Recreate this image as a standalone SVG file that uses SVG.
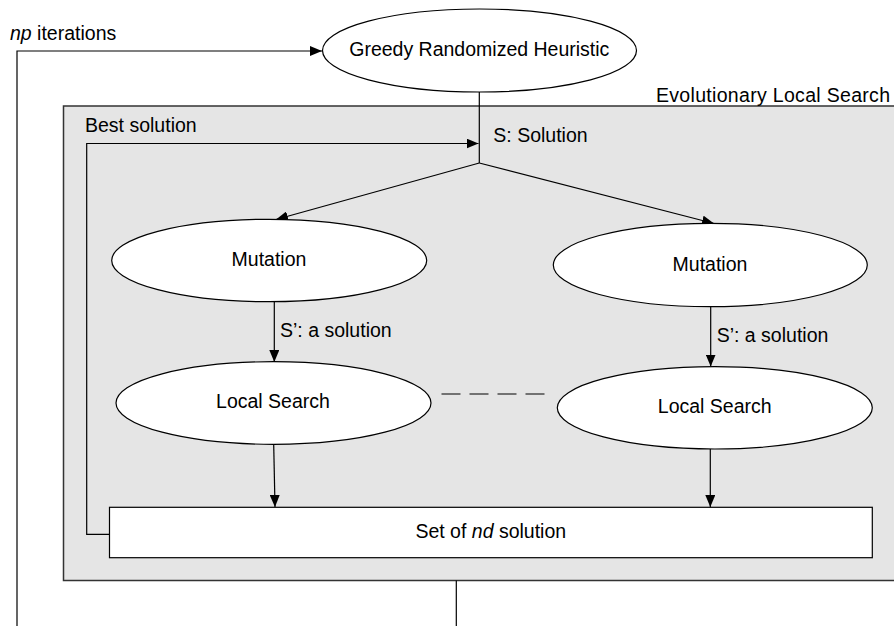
<svg xmlns="http://www.w3.org/2000/svg" width="894" height="626" viewBox="0 0 894 626">
<style>
text{font-family:"Liberation Sans",Arial,sans-serif;font-size:19.5px;fill:#000}
.node{fill:#fff;stroke:#000;stroke-width:1.2}
.edge{fill:none;stroke:#000;stroke-width:1.2}
.mid{text-anchor:middle}
</style>
<defs>
<marker id="arr" markerUnits="userSpaceOnUse" markerWidth="12" markerHeight="10" viewBox="0 0 12 10" refX="12" refY="5" orient="auto">
<path d="M0,0 L12,5 L0,10 Z" fill="#000"/>
</marker>
</defs>
<rect x="0" y="0" width="894" height="626" fill="#fff"/>
<g id="els">
<rect x="63.5" y="106" width="840" height="474.5" fill="#e5e5e5" stroke="#333" stroke-width="1.5"/>
<text x="656" y="101.7" textLength="234">Evolutionary Local Search</text>
</g>
<g id="connectors">
<polyline class="edge" points="17,626 17,51 322,51" marker-end="url(#arr)"/>
<line class="edge" x1="479.3" y1="92" x2="479.3" y2="163"/>
<polyline class="edge" points="109.5,534.3 86.7,534.3 86.7,143.5 478.5,143.5" marker-end="url(#arr)"/>
<line class="edge" x1="479.3" y1="163" x2="276" y2="219.5" marker-end="url(#arr)"/>
<line class="edge" x1="479.3" y1="163" x2="714" y2="223.5" marker-end="url(#arr)"/>
<line class="edge" x1="274.3" y1="302" x2="274.3" y2="362" marker-end="url(#arr)"/>
<line class="edge" x1="710.7" y1="307" x2="710.7" y2="366.5" marker-end="url(#arr)"/>
<line class="edge" x1="273.7" y1="444.5" x2="275" y2="507" marker-end="url(#arr)"/>
<line class="edge" x1="710.3" y1="449" x2="710.3" y2="507" marker-end="url(#arr)"/>
<line class="edge" x1="441.5" y1="394" x2="545" y2="394" stroke-dasharray="19 9"/>
<line class="edge" x1="456.3" y1="580.5" x2="456.3" y2="626"/>
<text x="10" y="40"><tspan font-style="italic">np</tspan> iterations</text>
<text x="85" y="131.7">Best solution</text>
<text x="493.3" y="141.7">S: Solution</text>
<text x="280" y="336.7">S’: a solution</text>
<text x="716.7" y="341.7">S’: a solution</text>
</g>
<g id="greedy">
<ellipse class="node" cx="479.5" cy="50.5" rx="157" ry="41.5"/>
<text class="mid" x="479.3" y="56">Greedy Randomized Heuristic</text>
</g>
<g id="mutation1">
<ellipse class="node" cx="269.2" cy="260.5" rx="157.5" ry="41.2"/>
<text class="mid" x="269" y="266">Mutation</text>
</g>
<g id="mutation2">
<ellipse class="node" cx="710.3" cy="265" rx="157" ry="41.7"/>
<text class="mid" x="710" y="270.7">Mutation</text>
</g>
<g id="localsearch1">
<ellipse class="node" cx="273.5" cy="403" rx="157.5" ry="41.3"/>
<text class="mid" x="273" y="408.3">Local Search</text>
</g>
<g id="localsearch2">
<ellipse class="node" cx="714.8" cy="407.8" rx="157.5" ry="41.2"/>
<text class="mid" x="714.7" y="413.3">Local Search</text>
</g>
<g id="set">
<rect class="node" x="109.5" y="507.3" width="762.8" height="50.4"/>
<text class="mid" x="490.8" y="538.3">Set of <tspan font-style="italic">nd</tspan> solution</text>
</g>
</svg>
